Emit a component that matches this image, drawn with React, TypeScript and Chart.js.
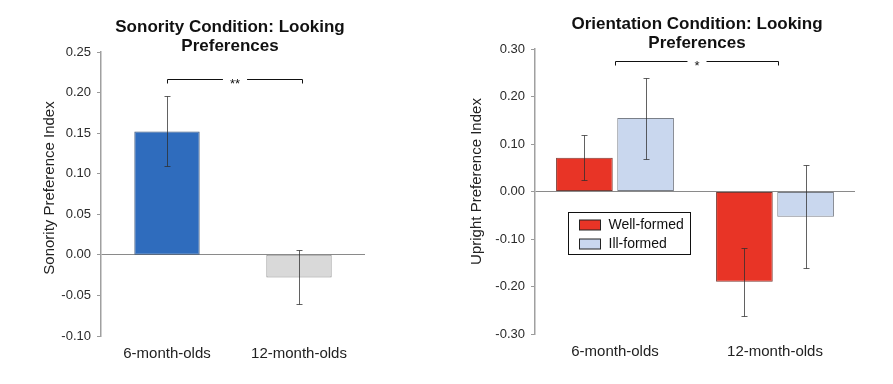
import { useEffect, useRef } from 'react';
import { Chart, registerables } from 'chart.js';

Chart.register(...registerables);

const FONT = "'Liberation Sans', Arial, Helvetica, sans-serif";

// ---- data ----
const ageGroups = ['6-month-olds', '12-month-olds'];

const sonorityMeans = [0.152, -0.028];
const sonorityErrLow = [0.109, -0.061];
const sonorityErrHigh = [0.196, 0.006];
const sonorityColors = ['#2f6cbd', '#d9d9d9'];
const sonorityBorders = ['#3a5377', '#8c8c8c'];
const sonorityRange = [-0.1, 0.25];
const sonorityStep = 0.05;

const orientationSeries = ['Well-formed', 'Ill-formed'];
const wellFormedMeans = [0.071, -0.19];
const wellFormedErrLow = [0.024, -0.262];
const wellFormedErrHigh = [0.118, -0.119];
const illFormedMeans = [0.155, -0.053];
const illFormedErrLow = [0.068, -0.16];
const illFormedErrHigh = [0.239, 0.055];
const orientationRange = [-0.3, 0.3];
const orientationStep = 0.1;

const sonorityTitle = ['Sonority Condition: Looking', 'Preferences'];
const orientationTitle = ['Orientation Condition: Looking', 'Preferences'];
const sonorityAxisTitle = 'Sonority Preference Index';
const orientationAxisTitle = 'Upright Preference Index';
const sonoritySig = { level: 0.217, text: '**' };
const orientationSig = { level: 0.274, text: '*' };

const annotPlugin = {
  id: 'annot',
  afterDatasetsDraw(chart: any) {
    const ctx = chart.ctx;
    const y = chart.scales.y;
    ctx.save();
    chart.data.datasets.forEach((ds: any, i: number) => {
      const meta = chart.getDatasetMeta(i);
      meta.data.forEach((el: any, j: number) => {
        const px = Math.round(el.x) + 0.5;
        const yl = Math.round(y.getPixelForValue(ds.errLow[j])) + 0.5;
        const yh = Math.round(y.getPixelForValue(ds.errHigh[j])) + 0.5;
        ctx.strokeStyle = 'rgba(45,45,45,0.75)';
        ctx.lineWidth = 1;
        ctx.beginPath();
        ctx.moveTo(px, yl);
        ctx.lineTo(px, yh);
        ctx.moveTo(px - 3, yl);
        ctx.lineTo(px + 3, yl);
        ctx.moveTo(px - 3, yh);
        ctx.lineTo(px + 3, yh);
        ctx.stroke();
      });
    });
    ctx.restore();
  },
  afterDraw(chart: any, _args: any, opts: any) {
    const ctx = chart.ctx;
    const { chartArea } = chart;
    const x = chart.scales.x;
    const y = chart.scales.y;
    ctx.save();
    // title
    ctx.fillStyle = '#111';
    ctx.font = `bold 17px ${FONT}`;
    ctx.textAlign = 'center';
    ctx.textBaseline = 'middle';
    const cx = (chartArea.left + chartArea.right) / 2 + opts.titleDx;
    opts.title.forEach((t: string, i: number) => {
      ctx.fillText(t, cx, opts.titleY + i * 19);
    });
    // y axis title
    ctx.save();
    ctx.translate(opts.yTitleX, (chartArea.top + chartArea.bottom) / 2 + opts.yTitleDy);
    ctx.rotate(-Math.PI / 2);
    ctx.font = `15px ${FONT}`;
    ctx.fillStyle = '#222';
    ctx.fillText(opts.yTitle, 0, 0);
    ctx.restore();
    // significance bracket
    const x0 = Math.round(x.getPixelForValue(0)) + 0.5;
    const x1 = Math.round(x.getPixelForValue(1)) + 3.5;
    const by = Math.round(y.getPixelForValue(opts.sig.level)) + 0.5;
    ctx.font = `13px ${FONT}`;
    const tw = ctx.measureText(opts.sig.text).width;
    const mid = (x0 + x1) / 2;
    const gap = tw / 2 + 7;
    ctx.strokeStyle = '#111';
    ctx.lineWidth = 1;
    ctx.beginPath();
    ctx.moveTo(x0, by + 4);
    ctx.lineTo(x0, by);
    ctx.lineTo(mid - gap, by);
    ctx.moveTo(mid + gap, by);
    ctx.lineTo(x1, by);
    ctx.lineTo(x1, by + 4);
    ctx.stroke();
    ctx.fillStyle = '#111';
    ctx.textBaseline = 'alphabetic';
    ctx.fillText(opts.sig.text, mid, by + 8);
    // legend
    if (opts.legend) {
      const lx = chartArea.left + opts.legend.dx + 0.5;
      const ly = chartArea.top + opts.legend.dy + 0.5;
      const lw = 122;
      const lh = 42;
      ctx.strokeStyle = '#111';
      ctx.lineWidth = 1;
      ctx.strokeRect(lx, ly, lw, lh);
      ctx.font = `14px ${FONT}`;
      ctx.textAlign = 'left';
      ctx.textBaseline = 'middle';
      chart.data.datasets.forEach((ds: any, i: number) => {
        const rowY = ly + 12.5 + i * 19;
        ctx.fillStyle = ds.backgroundColor;
        ctx.fillRect(lx + 11, rowY - 5, 21, 10);
        ctx.strokeStyle = '#222';
        ctx.strokeRect(lx + 11, rowY - 5, 21, 10);
        ctx.fillStyle = '#111';
        ctx.fillText(ds.label, lx + 40, rowY + 0.5);
      });
    }
    ctx.restore();
  },
};

function makeScales(range: number[], step: number, yWidth: number, xHeight: number) {
  return {
    x: {
      grid: { display: false, drawTicks: false },
      border: { display: false },
      ticks: { font: { family: FONT, size: 15 }, color: '#222', padding: 9 },
      afterFit: (s: any) => {
        s.height = xHeight;
      },
    },
    y: {
      min: range[0],
      max: range[1],
      ticks: {
        stepSize: step,
        font: { family: FONT, size: 13 },
        color: '#2a2a2a',
        padding: 6,
        callback: (v: any) => (Math.abs(Number(v)) < 1e-9 ? '0.00' : Number(v).toFixed(2)),
      },
      grid: {
        color: (c: any) => (c.tick && Math.abs(c.tick.value) < 1e-9 ? '#8a8a8a' : 'rgba(0,0,0,0)'),
        tickColor: '#9a9a9a',
        tickLength: 4,
        lineWidth: 1,
      },
      border: { display: true, color: '#a0a0a0', width: 1.5 },
      afterFit: (s: any) => {
        s.width = yWidth;
      },
    },
  };
}

function useChart(ref: any, config: any) {
  useEffect(() => {
    const chart = new Chart(ref.current, config);
    return () => chart.destroy();
  }, []);
}

function SonorityChart() {
  const ref = useRef<HTMLCanvasElement>(null);
  useChart(ref, {
    type: 'bar',
    data: {
      labels: ageGroups,
      datasets: [
        {
          label: 'Sonority',
          data: sonorityMeans,
          errLow: sonorityErrLow,
          errHigh: sonorityErrHigh,
          backgroundColor: sonorityColors,
          borderColor: sonorityBorders,
          borderWidth: 1,
          borderSkipped: false,
          categoryPercentage: 1,
          barPercentage: 0.495,
        },
      ],
    },
    options: {
      responsive: false,
      animation: false,
      devicePixelRatio: 1,
      layout: { padding: { left: 0, right: 65, top: 52, bottom: 0 } },
      scales: makeScales(sonorityRange, sonorityStep, 101, 48),
      plugins: {
        legend: { display: false },
        title: { display: false },
        tooltip: { enabled: false },
        annot: {
          title: sonorityTitle,
          titleDx: -3,
          titleY: 27,
          yTitle: sonorityAxisTitle,
          yTitleX: 50,
          yTitleDy: -6,
          sig: sonoritySig,
          legend: null,
        },
      },
    },
    plugins: [annotPlugin],
  });
  return <canvas ref={ref} width={430} height={384} style={{ position: 'absolute', left: 0, top: 0 }} />;
}

function OrientationChart() {
  const ref = useRef<HTMLCanvasElement>(null);
  useChart(ref, {
    type: 'bar',
    data: {
      labels: ageGroups,
      datasets: [
        {
          label: orientationSeries[0],
          data: wellFormedMeans,
          errLow: wellFormedErrLow,
          errHigh: wellFormedErrHigh,
          backgroundColor: '#e83426',
          borderColor: '#7d3a33',
          borderWidth: 1,
          borderSkipped: false,
          categoryPercentage: 0.765,
          barPercentage: 0.926,
        },
        {
          label: orientationSeries[1],
          data: illFormedMeans,
          errLow: illFormedErrLow,
          errHigh: illFormedErrHigh,
          backgroundColor: '#c9d7ee',
          borderColor: '#7a7f88',
          borderWidth: 1,
          borderSkipped: false,
          categoryPercentage: 0.765,
          barPercentage: 0.926,
        },
      ],
    },
    options: {
      responsive: false,
      animation: false,
      devicePixelRatio: 1,
      layout: { padding: { left: 0, right: 38, top: 49, bottom: 0 } },
      scales: makeScales(orientationRange, orientationStep, 105, 50),
      plugins: {
        legend: { display: false },
        title: { display: false },
        tooltip: { enabled: false },
        annot: {
          title: orientationTitle,
          titleDx: 2,
          titleY: 24,
          yTitle: orientationAxisTitle,
          yTitleX: 47,
          yTitleDy: -10,
          sig: orientationSig,
          legend: { dx: 33, dy: 163 },
        },
      },
    },
    plugins: [annotPlugin],
  });
  return <canvas ref={ref} width={463} height={384} style={{ position: 'absolute', left: 430, top: 0 }} />;
}

export default function App() {
  return (
    <div style={{ position: 'absolute', left: 0, top: 0, width: 893, height: 384, background: '#fff' }}>
      <SonorityChart />
      <OrientationChart />
    </div>
  );
}
